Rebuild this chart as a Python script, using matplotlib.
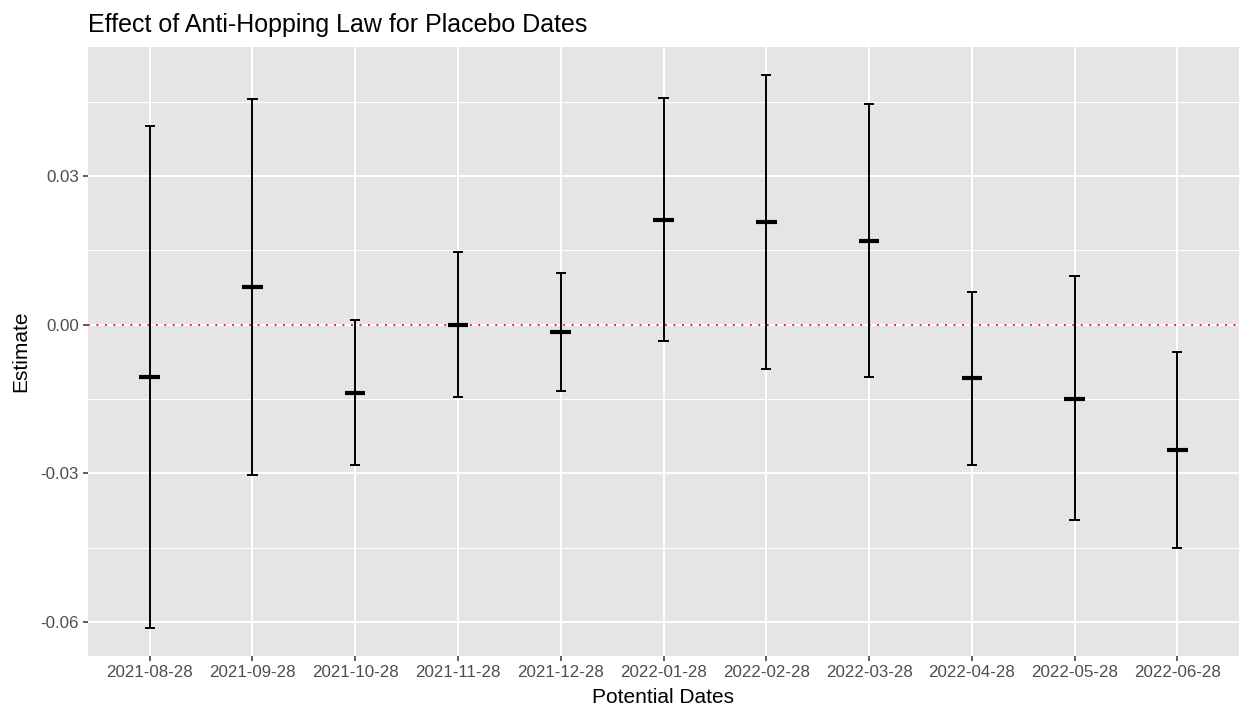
import matplotlib
matplotlib.use("Agg")
import matplotlib.pyplot as plt
import numpy as np

plt.rcParams['font.family'] = ['Liberation Sans', 'DejaVu Sans']

dates = ["2021-08-28", "2021-09-28", "2021-10-28", "2021-11-28", "2021-12-28",
         "2022-01-28", "2022-02-28", "2022-03-28", "2022-04-28", "2022-05-28",
         "2022-06-28"]
estimate = [-0.0105, 0.0076, -0.0137, 0.0000, -0.0015, 0.0212, 0.0207, 0.0170,
            -0.0108, -0.0149, -0.0253]
upper = [0.0402, 0.0456, 0.0010, 0.0147, 0.0104, 0.0457, 0.0505, 0.0446,
         0.0067, 0.0098, -0.0055]
lower = [-0.0613, -0.0304, -0.0283, -0.0145, -0.0133, -0.0032, -0.0090, -0.0105,
         -0.0284, -0.0395, -0.0451]
yticks = [-0.06, -0.03, 0.00, 0.03]
ytick_labels = ["-0.06", "-0.03", "0.00", "0.03"]

W, H = 1239, 707
PL, PR, PT, PB = 88, 1239, 47, 656
fig = plt.figure(figsize=(W / 100, H / 100), dpi=100)
fig.patch.set_facecolor('white')
ax = fig.add_axes([PL / W, 1 - PB / H, (PR - PL) / W, (PB - PT) / H])
ax.set_facecolor('#E5E5E5')

x = np.arange(1, len(dates) + 1)

# limits like ggplot expansion
lo, hi = min(lower), max(upper)
rng = hi - lo
ax.set_ylim(lo - 0.05 * rng, hi + 0.05 * rng)
ax.set_xlim(0.4, len(dates) + 0.6)

# grid
for yv in [-0.045, -0.015, 0.015, 0.045]:
    ax.axhline(yv, color='white', lw=0.75, zorder=0.5)
for yv in yticks:
    ax.axhline(yv, color='white', lw=1.45, zorder=0.6)
for xv in x:
    ax.axvline(xv, color='white', lw=1.45, zorder=0.6)

# zero reference line
ax.axhline(0, color='red', lw=1.3, linestyle=(0, (1, 3.7)), zorder=1)

# error bars
ax.vlines(x, lower, upper, color='black', lw=1.4, zorder=2)
ax.hlines(upper, x - 0.05, x + 0.05, color='black', lw=1.4, zorder=2)
ax.hlines(lower, x - 0.05, x + 0.05, color='black', lw=1.4, zorder=2)
ax.hlines(estimate, x - 0.1, x + 0.1, color='black', lw=3.0, zorder=3)

ax.set_xticks(x)
ax.set_xticklabels(dates)
ax.set_yticks(yticks)
ax.set_yticklabels(ytick_labels)
ax.tick_params(axis='both', length=3.6, width=1.1, color='#333333',
               labelcolor='#4D4D4D', labelsize=12.2, pad=3.0)
for s in ax.spines.values():
    s.set_visible(False)

fig.text(PL / W, 1 - 32 / H, "Effect of Anti-Hopping Law for Placebo Dates",
         fontsize=18, ha='left', va='baseline', color='black')
fig.text((PL + PR) / 2 / W, 1 - 703 / H, "Potential Dates", fontsize=15,
         ha='center', va='baseline', color='black')
fig.text(21 / W, 1 - (PT + PB) / 2 / H, "Estimate", fontsize=15, rotation=90,
         ha='center', va='center', color='black')

fig.savefig("out.png", dpi=100)
